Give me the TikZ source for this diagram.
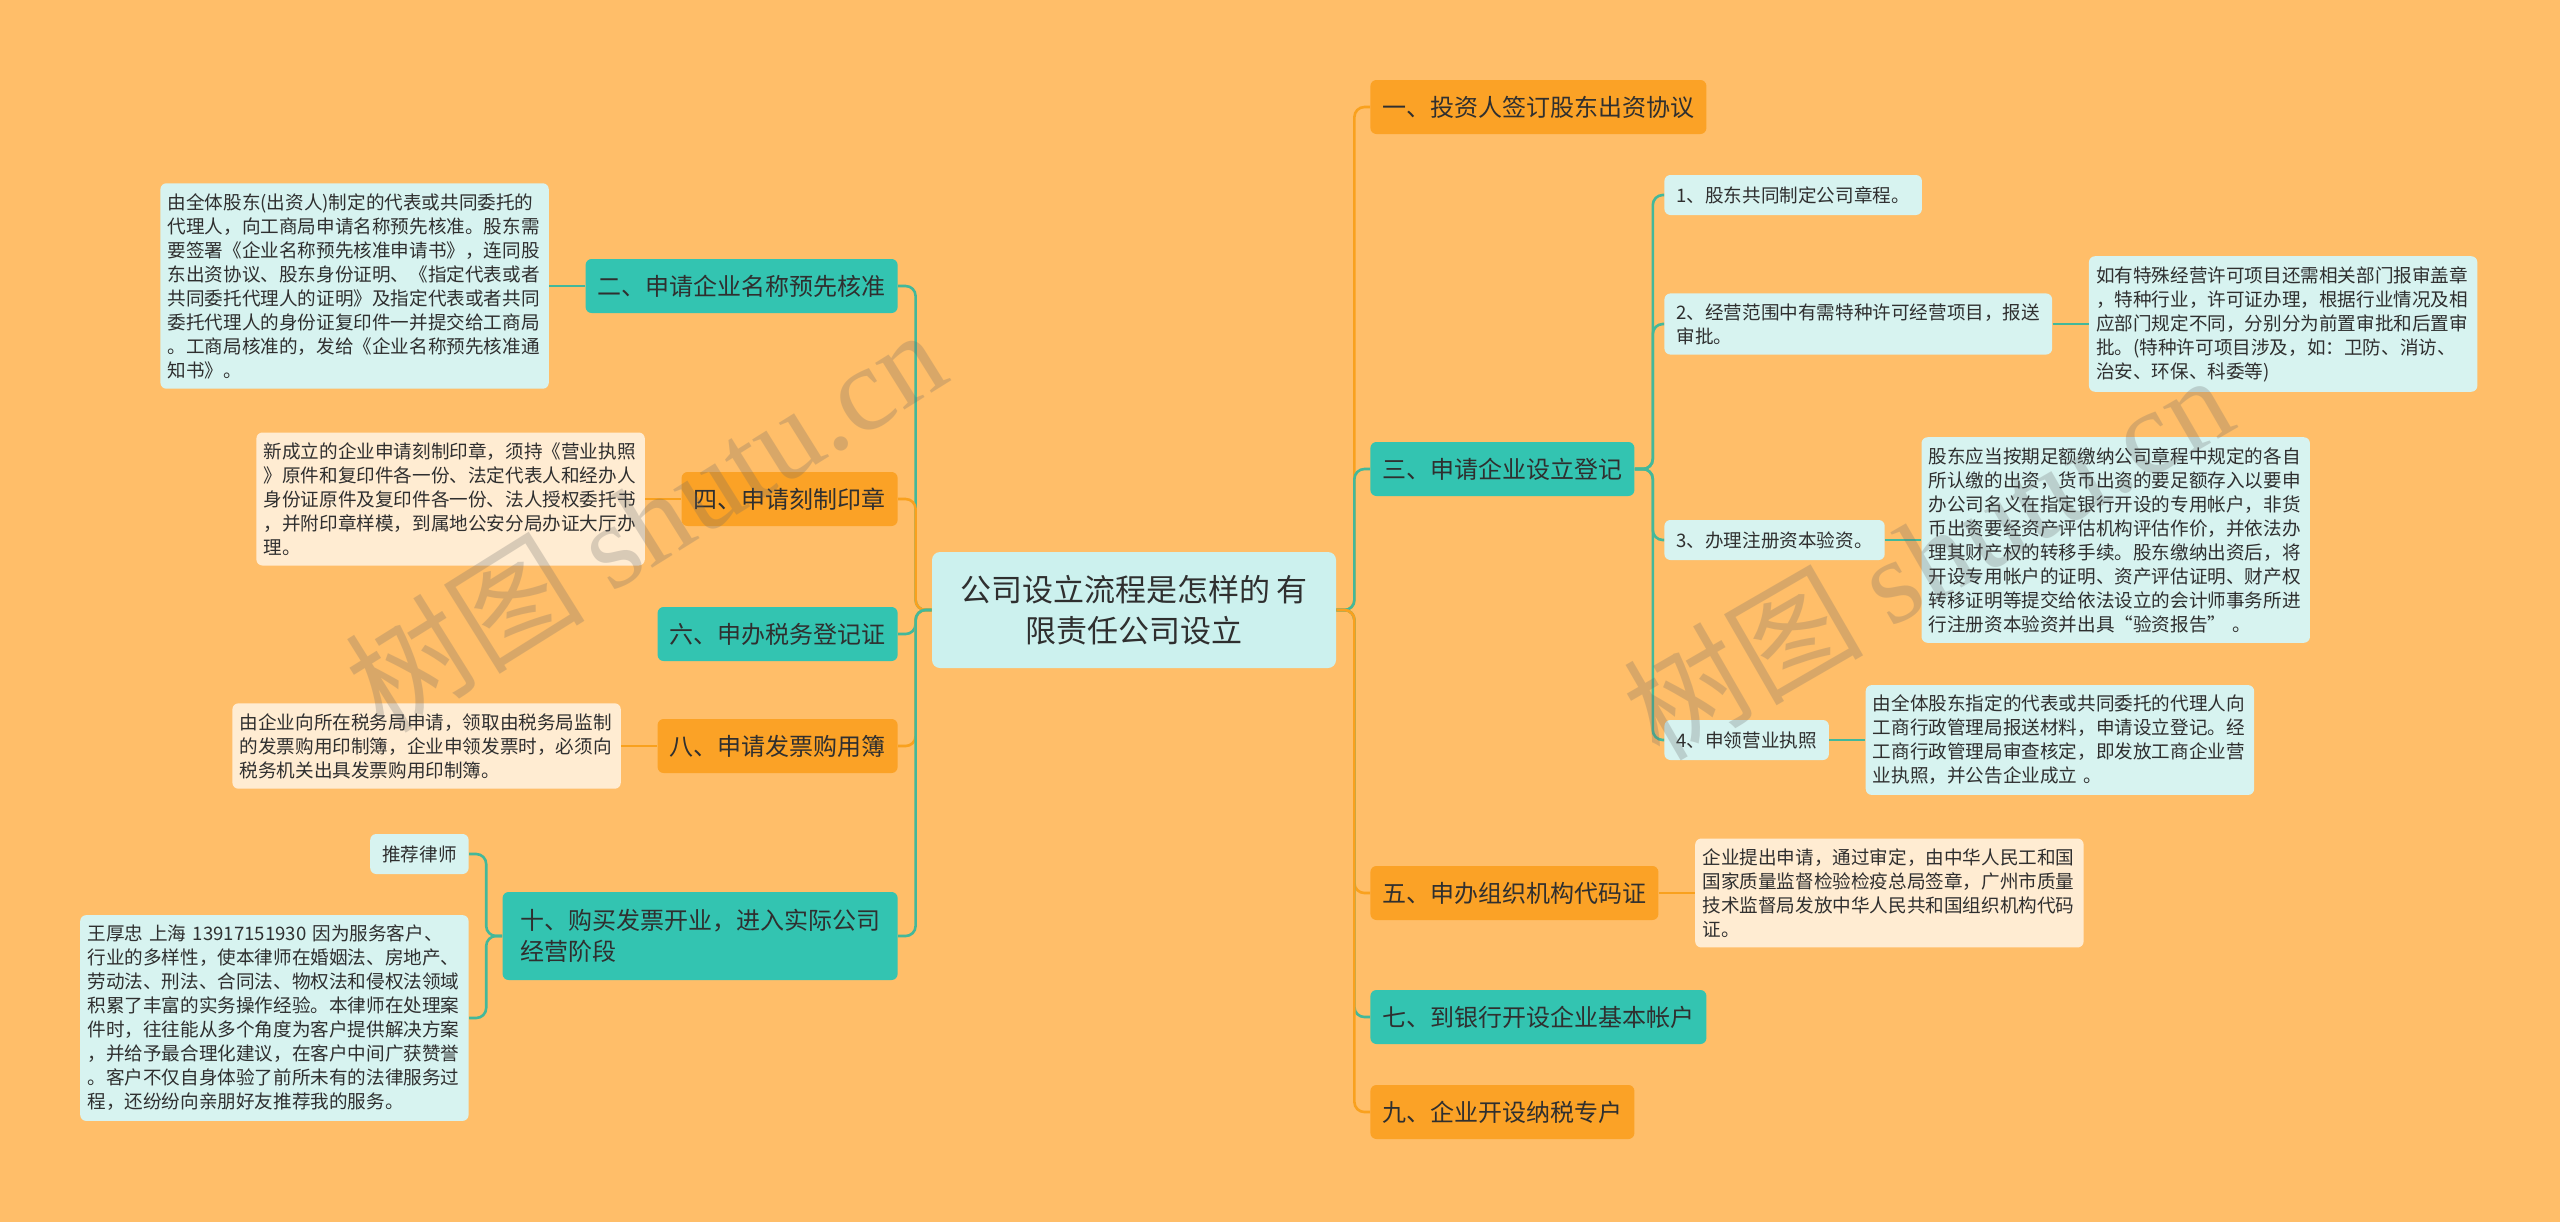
\documentclass[tikz,border=0pt]{standalone}
\usepackage{fontspec}
\setmainfont{Noto Sans CJK SC}
\newfontfamily\wmlatin{Liberation Serif}
\usetikzlibrary{positioning}

\definecolor{bgorange}{HTML}{FFBE69}
\definecolor{tealfill}{HTML}{33C4B1}
\definecolor{orangefill}{HTML}{FBA226}
\definecolor{notefill}{HTML}{D7F3F0}
\definecolor{memofill}{HTML}{FFECD2}
\definecolor{rootfill}{HTML}{CCF1EE}
\definecolor{tealline}{HTML}{43B89A}
\definecolor{orangeline}{HTML}{F9A11E}
\definecolor{ink}{HTML}{2F2F2F}

\begin{document}
\begin{tikzpicture}[x=0.5pt,y=-0.5pt,
rootbox/.style={fill=rootfill,rounded corners=4pt,align=center,text=ink,font=\fontsize{15.5}{20.5}\selectfont,minimum width=202pt,minimum height=58pt},
branchbox/.style={rounded corners=3pt,align=left,text=ink,font=\fontsize{12}{15.5}\selectfont,inner xsep=6pt,minimum height=27pt},
tealbox/.style={branchbox,fill=tealfill},
orangebox/.style={branchbox,fill=orangefill},
leafbox/.style={fill=notefill,rounded corners=3pt,align=left,text=ink,font=\fontsize{9.3}{12}\selectfont,inner xsep=6pt,inner ysep=5pt,minimum height=20pt},
notebox/.style={leafbox,text width=187pt,inner xsep=3.6pt},
memobox/.style={notebox,fill=memofill},
tflow/.style={draw=tealline,line width=1.3pt,rounded corners=5pt},
oflow/.style={draw=orangeline,line width=1.3pt,rounded corners=5pt},
wmark/.style={text=black!60,text opacity=0.25,font=\fontsize{60}{60}\selectfont},
node distance=18pt]
\useasboundingbox (0,0) rectangle (2560,1222);
\fill[bgorange] (0,0) rectangle (2560,1222);

\node[rootbox] (root) at (1134,610) {公司设立流程是怎样的 有\\限责任公司设立};

\node[orangebox,anchor=west] (invest) at (1370,107) {一、投资人签订股东出资协议};
\node[tealbox,anchor=west] (register) at (1370,469) {三、申请企业设立登记};
\node[orangebox,anchor=west] (orgcode) at (1370,893) {五、申办组织机构代码证};
\node[tealbox,anchor=west] (bank) at (1370,1017) {七、到银行开设企业基本帐户};
\node[orangebox,anchor=west] (taxacct) at (1370,1112) {九、企业开设纳税专户};

\node[tealbox,anchor=east] (name) at (898,286) {二、申请企业名称预先核准};
\node[orangebox,anchor=east] (seal) at (898,499) {四、申请刻制印章};
\node[tealbox,anchor=east] (taxreg) at (898,634) {六、申办税务登记证};
\node[orangebox,anchor=east] (invoice) at (898,746) {八、申请发票购用簿};
\node[tealbox,anchor=east,minimum height=44pt,minimum width=197.5pt] (opening) at (898,936) {十、购买发票开业，进入实际公司\\经营阶段};

\node[leafbox,anchor=west] (charter) at (1664,195) {1、股东共同制定公司章程。};
\node[leafbox,anchor=west] (permit) at (1664,324) {2、经营范围中有需特种许可经营项目，报送\\审批。};
\node[leafbox,anchor=west] (capital) at (1664,540) {3、办理注册资本验资。};
\node[leafbox,anchor=west] (license) at (1664,740) {4、申领营业执照};

\node[notebox,right=of permit] (permitnote) {如有特殊经营许可项目还需相关部门报审盖章\\，特种行业，许可证办理，根据行业情况及相\\应部门规定不同，分别分为前置审批和后置审\\批。(特种许可项目涉及，如：卫防、消访、\\治安、环保、科委等)};
\node[notebox,right=of capital] (capitalnote) {股东应当按期足额缴纳公司章程中规定的各自\\所认缴的出资，货币出资的要足额存入以要申\\办公司名义在指定银行开设的专用帐户，非货\\币出资要经资产评估机构评估作价，并依法办\\理其财产权的转移手续。股东缴纳出资后，将\\开设专用帐户的证明、资产评估证明、财产权\\转移证明等提交给依法设立的会计师事务所进\\行注册资本验资并出具“验资报告” 。};
\node[notebox,right=of license] (licensenote) {由全体股东指定的代表或共同委托的代理人向\\工商行政管理局报送材料，申请设立登记。经\\工商行政管理局审查核定，即发放工商企业营\\业执照，并公告企业成立 。};
\node[memobox,right=of orgcode] (orgcodenote) {企业提出申请，通过审定，由中华人民工和国\\国家质量监督检验检疫总局签章，广州市质量\\技术监督局发放中华人民共和国组织机构代码\\证。};

\node[notebox,left=of name] (namenote) {由全体股东(出资人)制定的代表或共同委托的\\代理人，向工商局申请名称预先核准。股东需\\要签署《企业名称预先核准申请书》，连同股\\东出资协议、股东身份证明、《指定代表或者\\共同委托代理人的证明》及指定代表或者共同\\委托代理人的身份证复印件一并提交给工商局\\。工商局核准的，发给《企业名称预先核准通\\知书》。};
\node[memobox,left=of seal] (sealnote) {新成立的企业申请刻制印章，须持《营业执照\\》原件和复印件各一份、法定代表人和经办人\\身份证原件及复印件各一份、法人授权委托书\\，并附印章样模，到属地公安分局办证大厅办\\理。};
\node[memobox,left=of invoice] (invoicenote) {由企业向所在税务局申请，领取由税务局监制\\的发票购用印制簿，企业申领发票时，必须向\\税务机关出具发票购用印制簿。};
\node[leafbox,anchor=east] (lawyer) at (469,854) {推荐律师};
\node[notebox,anchor=east] (lawyernote) at (469,1018) {王厚忠 上海 13917151930 因为服务客户、\\行业的多样性，使本律师在婚姻法、房地产、\\劳动法、刑法、合同法、物权法和侵权法领域\\积累了丰富的实务操作经验。本律师在处理案\\件时，往往能从多个角度为客户提供解决方案\\，并给予最合理化建议，在客户中间广获赞誉\\。客户不仅自身体验了前所未有的法律服务过\\程，还纷纷向亲朋好友推荐我的服务。};

\draw[oflow] (root.east) -- ++(18,0) |- (invest.west);
\draw[tflow] (root.east) -- ++(18,0) |- (register.west);
\draw[oflow] (root.east) -- ++(18,0) |- (orgcode.west);
\draw[tflow] (root.east) -- ++(18,0) |- (bank.west);
\draw[oflow] (root.east) -- ++(18,0) |- (taxacct.west);
\draw[tflow] (root.west) -- ++(-16,0) |- (name.east);
\draw[oflow] (root.west) -- ++(-16,0) |- (seal.east);
\draw[tflow] (root.west) -- ++(-16,0) |- (taxreg.east);
\draw[oflow] (root.west) -- ++(-16,0) |- (invoice.east);
\draw[tflow] (root.west) -- ++(-16,0) |- (opening.east);

\draw[tflow] (register.east) -- ++(18,0) |- (charter.west);
\draw[tflow] (register.east) -- ++(18,0) |- (permit.west);
\draw[tflow] (register.east) -- ++(18,0) |- (capital.west);
\draw[tflow] (register.east) -- ++(18,0) |- (license.west);
\draw[tflow] (permit) -- (permitnote);
\draw[tflow] (capital) -- (capitalnote);
\draw[tflow] (license) -- (licensenote);
\draw[oflow] (orgcode) -- (orgcodenote);
\draw[tflow] (name) -- (namenote);
\draw[oflow] (seal) -- (sealnote);
\draw[oflow] (invoice) -- (invoicenote);
\draw[tflow] (opening.west) -- ++(-16,0) |- (lawyer.east);
\draw[tflow] (opening.west) -- ++(-16,0) |- (lawyernote.east);

\node[wmark,rotate=32] (wmleft) at (645,519) {树图 {\wmlatin shutu.cn}};
\node[wmark,rotate=30] (wmright) at (1927,555) {树图 {\wmlatin shutu.cn}};
\end{tikzpicture}
\end{document}
